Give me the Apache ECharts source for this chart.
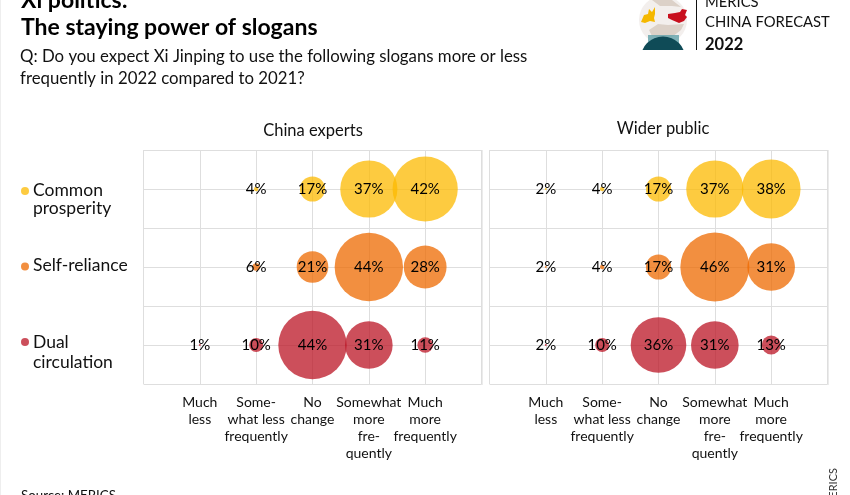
<!DOCTYPE html>
<html><head><meta charset="utf-8">
<style>html,body{margin:0;padding:0;background:#fff}#c{width:850px;height:495px}</style>
<script src="https://cdn.jsdelivr.net/npm/echarts@6/dist/echarts.min.js"></script>
</head><body><div id="c"></div>
<script>
const answers = ['Much\nless','Some-\nwhat less\nfrequently','No\nchange','Somewhat\nmore\nfre-\nquently','Much\nmore\nfrequently'];
const slogans = ['Common prosperity','Self-reliance','Dual circulation'];
const panels = ['China experts','Wider public'];
const expertsCommon = [null,4,17,37,42];
const expertsSelf = [null,6,21,44,28];
const expertsDual = [1,10,44,31,11];
const publicCommon = [2,4,17,37,38];
const publicSelf = [2,4,17,46,31];
const publicDual = [2,10,36,31,13];
const colors = ['rgba(252,185,0,0.75)','rgba(238,106,0,0.75)','rgba(187,20,36,0.75)'];
const rows = [2.5,1.5,0.5];
const font = 'Lato';
const size = v => Math.min(69, Math.max(2, 1.6*v-2));
const panelData = [[expertsCommon,expertsSelf,expertsDual],[publicCommon,publicSelf,publicDual]];
const gridLine = {show:true,lineStyle:{color:'#dedede',width:1}};
const grids = [{left:143.5,top:150,width:338,height:234},{left:489.5,top:150,width:338,height:234}];
const xAxes = grids.map((g,i)=>({gridIndex:i,type:'value',min:0,max:6,interval:1,
  axisLine:{show:false},axisTick:{show:false},splitLine:gridLine,
  axisLabel:{margin:10,color:'#111',fontFamily:font,fontSize:14,lineHeight:17,verticalAlign:'top',
    formatter:v=>answers[v-1]||''}}));
const yAxes = grids.map((g,i)=>({gridIndex:i,type:'value',min:0,max:3,interval:0.5,
  axisLine:{show:false},axisTick:{show:false},axisLabel:{show:false},splitLine:gridLine}));
const series = [];
panelData.forEach((p,pi)=>p.forEach((vals,ri)=>{
  series.push({type:'scatter',name:slogans[ri],xAxisIndex:pi,yAxisIndex:pi,
    data:vals.map((v,i)=>v==null?null:[i+1,rows[ri],v]).filter(Boolean),
    symbolSize:d=>size(d[2]),
    itemStyle:{color:colors[ri],opacity:1},
    label:{show:true,position:'inside',formatter:d=>d.value[2]+'%',color:'#000',fontFamily:font,fontSize:15},
    emphasis:{disabled:true},silent:true});
}));
const txt=(x,y,t,o)=>({type:'text',x:x,y:y,silent:true,style:Object.assign({text:t,fill:'#111',font:'17.5px '+font,lineHeight:18},o||{})});
const dot=(y,c)=>({type:'circle',shape:{cx:25,cy:y,r:4},style:{fill:c},silent:true});
const poly=(pts,fill)=>({type:'polygon',shape:{points:pts},style:{fill},silent:true});
const graphic=[
  {type:'rect',shape:{x:0,y:0,width:1,height:495},style:{fill:'#eeeeee'},silent:true},
  {type:'rect',shape:{x:481,y:150,width:2,height:235},style:{fill:'#ebebeb'},silent:true,z:-1},
  {type:'rect',shape:{x:827,y:150,width:2,height:235},style:{fill:'#ebebeb'},silent:true,z:-1},
  dot(191,colors[0]),txt(33,181,'Common\nprosperity'),
  dot(266.5,colors[1]),txt(33,256.5,'Self-reliance'),
  dot(342,colors[2]),txt(33,332,'Dual\ncirculation',{lineHeight:20}),
  txt(21,487,'Source: MERICS',{font:'13.3px '+font}),
  {type:'text',x:839,y:468,rotation:Math.PI/2,silent:true,style:{text:'MERICS',fill:'#333',font:'11px '+font,textAlign:'right',textVerticalAlign:'bottom'}},
  // logo
  {type:'circle',shape:{cx:663,cy:20,r:24},style:{fill:'#f3efed'},silent:true},
  poly([[658,24],[668,25],[684,24],[681,30],[672,37],[662,38],[652,36],[649,30]],'#dcd1c8'),
  poly([[652,0],[672,0],[681,7],[672,6],[660,6]],'#dcd1c8'),
  poly([[649,9],[652,12],[655,7],[655,14],[654,18],[655,22],[650,21],[645,23],[641,22],[644,15],[648,14]],'#f5b800'),
  poly([[668,14],[675,13],[680,12],[682,9],[687,10],[685,15],[687,17],[684,21],[679,23],[672,20],[668,18]],'#c8101e'),
  {type:'rect',shape:{x:648,y:35,width:31,height:15},style:{fill:'#6aa6ad',opacity:0.85},silent:true},
  {type:'circle',shape:{cx:663,cy:59,r:22.5},style:{fill:'#0f4b57'},silent:true},
  {type:'rect',shape:{x:635,y:50,width:60,height:40},style:{fill:'#fff'},silent:true},
  {type:'rect',shape:{x:696,y:0,width:1,height:50},style:{fill:'#111'},silent:true},
  txt(705,-7,'MERICS',{font:'14.8px '+font}),
  txt(705,13,'CHINA FORECAST',{font:'14.8px '+font}),
  txt(705,36,'2022',{font:'bold 16.5px '+font})
];
const titleStyle={color:'#111',fontFamily:font,fontWeight:'normal',fontSize:16.8,lineHeight:22};
const chart=echarts.init(document.getElementById('c'),null,{renderer:'canvas'});
chart.setOption({
  backgroundColor:'#fff',animation:false,
  title:[
    {text:'Xi politics:\nThe staying power of slogans',left:21,top:-13,padding:0,textStyle:{color:'#000',fontFamily:font,fontWeight:'bold',fontSize:23,lineHeight:27}},
    {text:'Q: Do you expect Xi Jinping to use the following slogans more or less\nfrequently in 2022 compared to 2021?',left:20,top:45.5,padding:0,textStyle:titleStyle},
    {text:panels[0],left:313,top:120,padding:0,textAlign:'center',textStyle:{...titleStyle,fontSize:16.5}},
    {text:panels[1],left:663,top:117.5,padding:0,textAlign:'center',textStyle:{...titleStyle,fontSize:16.5}}
  ],
  grid:grids,xAxis:xAxes,yAxis:yAxes,series,graphic
});
</script></body></html>
